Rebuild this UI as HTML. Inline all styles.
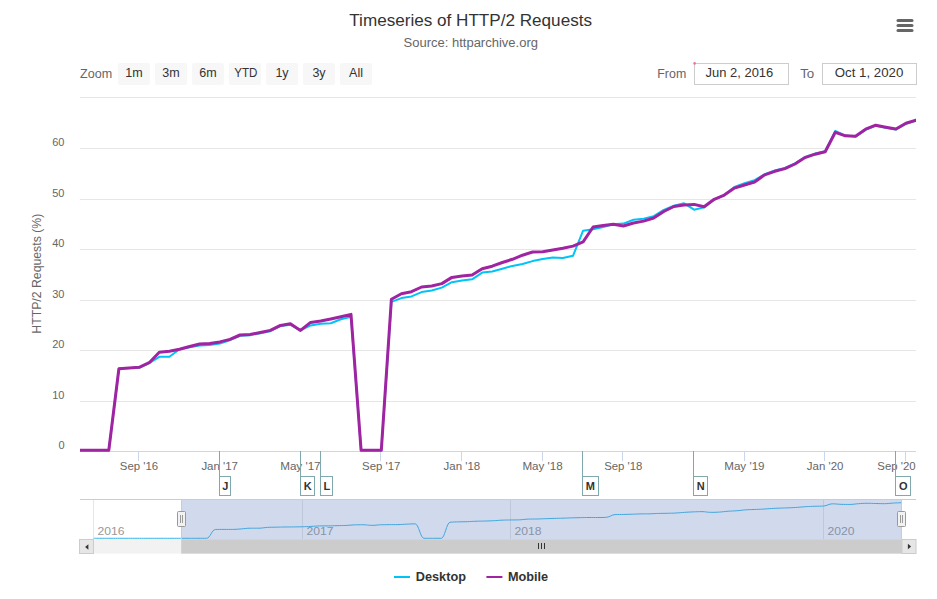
<!DOCTYPE html>
<html><head><meta charset="utf-8"><title>Timeseries of HTTP/2 Requests</title>
<style>
html,body{margin:0;padding:0;background:#ffffff;}
body{width:937px;height:599px;overflow:hidden;font-family:"Liberation Sans", sans-serif;}
svg{display:block;font-family:"Liberation Sans", sans-serif;}
</style></head><body>
<svg width="937" height="599" viewBox="0 0 937 599">
<rect x="0" y="0" width="937" height="599" fill="#ffffff"/>
<text x="349.3" y="25.6" font-size="16" fill="#333333" text-anchor="start" font-weight="normal" textLength="242.7" lengthAdjust="spacingAndGlyphs">Timeseries of HTTP/2 Requests</text>
<text x="403.5" y="46.9" font-size="12" fill="#666666" text-anchor="start" font-weight="normal" textLength="134.5" lengthAdjust="spacingAndGlyphs">Source: httparchive.org</text>
<line x1="898" y1="20.5" x2="912" y2="20.5" stroke="#666666" stroke-width="3" stroke-linecap="round"/>
<line x1="898" y1="25.5" x2="912" y2="25.5" stroke="#666666" stroke-width="3" stroke-linecap="round"/>
<line x1="898" y1="30.5" x2="912" y2="30.5" stroke="#666666" stroke-width="3" stroke-linecap="round"/>
<text x="80.1" y="78.0" font-size="12" fill="#666666" text-anchor="start" font-weight="normal" textLength="32.1" lengthAdjust="spacingAndGlyphs">Zoom</text>
<rect x="118" y="63" width="32" height="22" rx="2" ry="2" fill="#f7f7f7"/>
<text x="134.0" y="77.3" font-size="12.5" fill="#333333" text-anchor="middle" font-weight="normal">1m</text>
<rect x="155" y="63" width="32" height="22" rx="2" ry="2" fill="#f7f7f7"/>
<text x="171.0" y="77.3" font-size="12.5" fill="#333333" text-anchor="middle" font-weight="normal">3m</text>
<rect x="192" y="63" width="32" height="22" rx="2" ry="2" fill="#f7f7f7"/>
<text x="208.0" y="77.3" font-size="12.5" fill="#333333" text-anchor="middle" font-weight="normal">6m</text>
<rect x="229" y="63" width="32" height="22" rx="2" ry="2" fill="#f7f7f7"/>
<text x="245.9" y="77.3" font-size="12.5" fill="#333333" text-anchor="middle" font-weight="normal" textLength="23.2" lengthAdjust="spacingAndGlyphs">YTD</text>
<rect x="266" y="63" width="32" height="22" rx="2" ry="2" fill="#f7f7f7"/>
<text x="282.0" y="77.3" font-size="12.5" fill="#333333" text-anchor="middle" font-weight="normal">1y</text>
<rect x="303" y="63" width="32" height="22" rx="2" ry="2" fill="#f7f7f7"/>
<text x="319.0" y="77.3" font-size="12.5" fill="#333333" text-anchor="middle" font-weight="normal">3y</text>
<rect x="340" y="63" width="32" height="22" rx="2" ry="2" fill="#f7f7f7"/>
<text x="356.0" y="77.3" font-size="12.5" fill="#333333" text-anchor="middle" font-weight="normal">All</text>
<text x="657.3" y="77.5" font-size="12" fill="#666666" text-anchor="start" font-weight="normal" textLength="28.9" lengthAdjust="spacingAndGlyphs">From</text>
<rect x="694.5" y="63.5" width="94" height="21" fill="#ffffff" stroke="#cccccc" stroke-width="1"/>
<circle cx="694.6" cy="63.4" r="1.3" fill="#f06eaa"/>
<text x="705.5" y="77.4" font-size="12.5" fill="#333333" text-anchor="start" font-weight="normal" textLength="67.8" lengthAdjust="spacingAndGlyphs">Jun 2, 2016</text>
<text x="800.2" y="77.5" font-size="12" fill="#666666" text-anchor="start" font-weight="normal" textLength="14.1" lengthAdjust="spacingAndGlyphs">To</text>
<rect x="822.5" y="63.5" width="94" height="21" fill="#ffffff" stroke="#cccccc" stroke-width="1"/>
<text x="834.7" y="77.4" font-size="12.5" fill="#333333" text-anchor="start" font-weight="normal" textLength="68.6" lengthAdjust="spacingAndGlyphs">Oct 1, 2020</text>
<line x1="80" y1="97.5" x2="916" y2="97.5" stroke="#e6e6e6" stroke-width="1"/>
<line x1="80" y1="148.5" x2="916" y2="148.5" stroke="#e6e6e6" stroke-width="1"/>
<text x="64.5" y="146.3" font-size="11" fill="#666666" text-anchor="end" font-weight="normal">60</text>
<line x1="80" y1="199.5" x2="916" y2="199.5" stroke="#e6e6e6" stroke-width="1"/>
<text x="64.5" y="197.3" font-size="11" fill="#666666" text-anchor="end" font-weight="normal">50</text>
<line x1="80" y1="249.5" x2="916" y2="249.5" stroke="#e6e6e6" stroke-width="1"/>
<text x="64.5" y="247.3" font-size="11" fill="#666666" text-anchor="end" font-weight="normal">40</text>
<line x1="80" y1="300.5" x2="916" y2="300.5" stroke="#e6e6e6" stroke-width="1"/>
<text x="64.5" y="298.3" font-size="11" fill="#666666" text-anchor="end" font-weight="normal">30</text>
<line x1="80" y1="350.5" x2="916" y2="350.5" stroke="#e6e6e6" stroke-width="1"/>
<text x="64.5" y="348.3" font-size="11" fill="#666666" text-anchor="end" font-weight="normal">20</text>
<line x1="80" y1="401.5" x2="916" y2="401.5" stroke="#e6e6e6" stroke-width="1"/>
<text x="64.5" y="399.3" font-size="11" fill="#666666" text-anchor="end" font-weight="normal">10</text>
<text x="64.5" y="449.0" font-size="11" fill="#666666" text-anchor="end" font-weight="normal">0</text>
<text x="0" y="0" font-size="12" fill="#666666" text-anchor="middle" transform="translate(40.7,273.7) rotate(-90)" textLength="120" lengthAdjust="spacingAndGlyphs">HTTP/2 Requests (%)</text>
<line x1="138.5" y1="451" x2="138.5" y2="461" stroke="#ccd6eb" stroke-width="1"/>
<text x="139.0" y="470.4" font-size="11" fill="#666666" text-anchor="middle" font-weight="normal" textLength="38.3" lengthAdjust="spacingAndGlyphs">Sep '16</text>
<line x1="219.5" y1="451" x2="219.5" y2="461" stroke="#ccd6eb" stroke-width="1"/>
<text x="219.7" y="470.4" font-size="11" fill="#666666" text-anchor="middle" font-weight="normal" textLength="36.6" lengthAdjust="spacingAndGlyphs">Jan '17</text>
<line x1="300.5" y1="451" x2="300.5" y2="461" stroke="#ccd6eb" stroke-width="1"/>
<text x="300.4" y="470.4" font-size="11" fill="#666666" text-anchor="middle" font-weight="normal" textLength="40.4" lengthAdjust="spacingAndGlyphs">May '17</text>
<line x1="380.5" y1="451" x2="380.5" y2="461" stroke="#ccd6eb" stroke-width="1"/>
<text x="381.2" y="470.4" font-size="11" fill="#666666" text-anchor="middle" font-weight="normal" textLength="38.3" lengthAdjust="spacingAndGlyphs">Sep '17</text>
<line x1="461.5" y1="451" x2="461.5" y2="461" stroke="#ccd6eb" stroke-width="1"/>
<text x="461.9" y="470.4" font-size="11" fill="#666666" text-anchor="middle" font-weight="normal" textLength="36.6" lengthAdjust="spacingAndGlyphs">Jan '18</text>
<line x1="542.5" y1="451" x2="542.5" y2="461" stroke="#ccd6eb" stroke-width="1"/>
<text x="542.6" y="470.4" font-size="11" fill="#666666" text-anchor="middle" font-weight="normal" textLength="40.4" lengthAdjust="spacingAndGlyphs">May '18</text>
<line x1="622.5" y1="451" x2="622.5" y2="461" stroke="#ccd6eb" stroke-width="1"/>
<text x="623.3" y="470.4" font-size="11" fill="#666666" text-anchor="middle" font-weight="normal" textLength="38.3" lengthAdjust="spacingAndGlyphs">Sep '18</text>
<line x1="744.5" y1="451" x2="744.5" y2="461" stroke="#ccd6eb" stroke-width="1"/>
<text x="744.4" y="470.4" font-size="11" fill="#666666" text-anchor="middle" font-weight="normal" textLength="40.4" lengthAdjust="spacingAndGlyphs">May '19</text>
<line x1="824.5" y1="451" x2="824.5" y2="461" stroke="#ccd6eb" stroke-width="1"/>
<text x="825.1" y="470.4" font-size="11" fill="#666666" text-anchor="middle" font-weight="normal" textLength="36.6" lengthAdjust="spacingAndGlyphs">Jan '20</text>
<line x1="905.5" y1="451" x2="905.5" y2="461" stroke="#ccd6eb" stroke-width="1"/>
<text x="896.5" y="470.4" font-size="11" fill="#666666" text-anchor="middle" font-weight="normal" textLength="38.3" lengthAdjust="spacingAndGlyphs">Sep '20</text>
<line x1="80" y1="451.5" x2="916" y2="451.5" stroke="#ccd6eb" stroke-width="1"/>
<clipPath id="pc"><rect x="80" y="90" width="836" height="370"/></clipPath>
<g clip-path="url(#pc)">
<polyline points="68.5,450.3 78.6,450.3 88.6,450.3 98.7,450.3 108.8,450.3 118.9,368.6 129.0,367.9 139.1,367.8 149.2,363.2 159.3,356.8 169.4,356.8 179.5,349.3 189.6,347.2 199.6,345.6 209.7,345.0 219.8,343.5 229.9,340.2 240.0,335.8 250.1,335.2 260.2,333.3 270.3,331.2 280.4,326.1 290.4,324.8 300.5,330.4 310.6,325.4 320.7,323.8 330.8,323.2 340.9,319.3 351.0,316.8 361.1,450.3 371.2,450.3 381.3,450.3 391.4,301.9 401.4,298.1 411.5,296.4 421.6,292.1 431.7,290.5 441.8,287.6 451.9,282.2 462.0,280.6 472.1,279.3 482.2,272.6 492.2,271.5 502.3,268.7 512.4,265.9 522.5,264.0 532.6,261.1 542.7,259.0 552.8,257.6 562.9,257.9 573.0,255.8 583.1,230.7 593.1,229.3 603.2,227.0 613.3,224.3 623.4,223.6 633.5,219.8 643.6,218.7 653.7,216.1 663.8,209.9 673.9,205.7 684.0,203.3 694.1,209.7 704.1,207.4 714.2,199.5 724.3,195.2 734.4,186.9 744.5,183.3 754.6,180.1 764.7,174.3 774.8,170.5 784.9,168.0 795.0,163.4 805.0,157.0 815.1,153.6 825.2,151.3 835.3,130.9 845.4,135.6 855.5,136.6 865.6,129.8 875.7,125.8 885.8,127.8 895.9,129.6 905.9,123.8 916.0,120.6" fill="none" stroke="#00c3f7" stroke-width="2" stroke-linejoin="round" stroke-linecap="round"/>
<polyline points="68.5,450.3 78.6,450.3 88.6,450.3 98.7,450.3 108.8,450.3 118.9,368.8 129.0,367.9 139.1,367.3 149.2,362.7 159.3,352.3 169.4,351.3 179.5,349.3 189.6,346.5 199.6,344.0 209.7,343.5 219.8,341.9 229.9,339.4 240.0,335.0 250.1,334.4 260.2,332.5 270.3,330.4 280.4,325.4 290.4,323.7 300.5,330.4 310.6,322.4 320.7,321.0 330.8,319.0 340.9,316.8 351.0,314.4 361.1,450.3 371.2,450.3 381.3,450.3 391.4,299.2 401.4,293.7 411.5,291.7 421.6,287.0 431.7,286.0 441.8,283.6 451.9,277.4 462.0,276.1 472.1,275.1 482.2,268.7 492.2,266.2 502.3,262.5 512.4,259.3 522.5,255.2 532.6,252.0 542.7,251.8 552.8,250.1 562.9,248.3 573.0,246.1 583.1,241.9 593.1,227.0 603.2,225.4 613.3,224.3 623.4,226.0 633.5,223.0 643.6,221.1 653.7,218.0 663.8,211.5 673.9,206.5 684.0,205.1 694.1,204.4 704.1,206.8 714.2,199.3 724.3,195.1 734.4,188.1 744.5,185.0 754.6,182.0 764.7,174.8 774.8,171.3 784.9,168.6 795.0,164.0 805.0,157.6 815.1,154.2 825.2,151.8 835.3,132.3 845.4,135.8 855.5,136.2 865.6,129.2 875.7,125.2 885.8,127.2 895.9,129.0 905.9,123.2 916.0,120.1" fill="none" stroke="#a024a2" stroke-width="3" stroke-linejoin="round" stroke-linecap="round"/>
</g>
<line x1="219.5" y1="451" x2="219.5" y2="476.5" stroke="#80a9ae" stroke-width="1"/>
<rect x="219.5" y="476.5" width="11.0" height="19" fill="#ffffff" stroke="#80a9ae" stroke-width="1"/>
<text x="225.3" y="490.0" font-size="11" fill="#333333" text-anchor="middle" font-weight="bold">J</text>
<line x1="300.5" y1="451" x2="300.5" y2="476.5" stroke="#80a9ae" stroke-width="1"/>
<rect x="300.5" y="476.5" width="14.0" height="19" fill="#ffffff" stroke="#80a9ae" stroke-width="1"/>
<text x="307.8" y="490.0" font-size="11" fill="#333333" text-anchor="middle" font-weight="bold">K</text>
<line x1="320.5" y1="451" x2="320.5" y2="476.5" stroke="#80a9ae" stroke-width="1"/>
<rect x="320.5" y="476.5" width="12.0" height="19" fill="#ffffff" stroke="#80a9ae" stroke-width="1"/>
<text x="326.8" y="490.0" font-size="11" fill="#333333" text-anchor="middle" font-weight="bold">L</text>
<line x1="582.5" y1="451" x2="582.5" y2="476.5" stroke="#80a9ae" stroke-width="1"/>
<rect x="582.5" y="476.5" width="16.0" height="19" fill="#ffffff" stroke="#80a9ae" stroke-width="1"/>
<text x="590.3" y="490.0" font-size="11" fill="#333333" text-anchor="middle" font-weight="bold">M</text>
<line x1="693.5" y1="451" x2="693.5" y2="476.5" stroke="#80a9ae" stroke-width="1"/>
<rect x="693.5" y="476.5" width="14.0" height="19" fill="#ffffff" stroke="#80a9ae" stroke-width="1"/>
<text x="700.8" y="490.0" font-size="11" fill="#333333" text-anchor="middle" font-weight="bold">N</text>
<line x1="895.5" y1="451" x2="895.5" y2="476.5" stroke="#80a9ae" stroke-width="1"/>
<rect x="895.5" y="476.5" width="15.0" height="19" fill="#ffffff" stroke="#80a9ae" stroke-width="1"/>
<text x="903.3" y="490.0" font-size="11" fill="#333333" text-anchor="middle" font-weight="bold">O</text>
<line x1="93.5" y1="500" x2="93.5" y2="539.5" stroke="#e6e6e6" stroke-width="1"/>
<text x="97.5" y="535.3" font-size="11" fill="#999999" text-anchor="start" font-weight="normal" textLength="27.0" lengthAdjust="spacingAndGlyphs">2016</text>
<line x1="302.5" y1="500" x2="302.5" y2="539.5" stroke="#e6e6e6" stroke-width="1"/>
<text x="306.5" y="535.3" font-size="11" fill="#999999" text-anchor="start" font-weight="normal" textLength="27.0" lengthAdjust="spacingAndGlyphs">2017</text>
<line x1="510.5" y1="500" x2="510.5" y2="539.5" stroke="#e6e6e6" stroke-width="1"/>
<text x="514.5" y="535.3" font-size="11" fill="#999999" text-anchor="start" font-weight="normal" textLength="27.0" lengthAdjust="spacingAndGlyphs">2018</text>
<line x1="823.5" y1="500" x2="823.5" y2="539.5" stroke="#e6e6e6" stroke-width="1"/>
<text x="827.5" y="535.3" font-size="11" fill="#999999" text-anchor="start" font-weight="normal" textLength="27.0" lengthAdjust="spacingAndGlyphs">2020</text>
<path d="M 93.69 538.29 C 93.69 538.29 98.91 538.29 102.38 538.29 C 105.86 538.29 107.60 538.29 111.07 538.29 C 114.55 538.29 116.29 538.29 119.76 538.29 C 123.24 538.29 124.98 538.29 128.45 538.29 C 131.93 538.29 133.67 538.29 137.14 538.29 C 140.62 538.29 142.36 538.29 145.83 538.29 C 149.31 538.29 151.05 538.29 154.52 538.29 C 158.00 538.29 159.74 538.29 163.21 538.29 C 166.69 538.29 168.43 538.29 171.90 538.29 C 175.38 538.29 177.12 538.29 180.59 538.29 C 184.07 538.29 185.81 538.29 189.28 538.29 C 192.76 538.29 194.50 538.29 197.97 538.29 C 201.45 538.29 203.19 538.29 206.66 538.29 C 210.14 538.29 211.88 529.55 215.35 529.47 C 218.83 529.40 220.57 529.41 224.04 529.40 C 227.52 529.39 229.26 529.40 232.73 529.39 C 236.21 529.38 237.95 529.13 241.42 528.89 C 244.90 528.65 246.64 528.20 250.11 528.20 C 253.59 528.20 255.33 528.20 258.80 528.20 C 262.28 528.20 264.02 527.60 267.49 527.39 C 270.97 527.18 272.71 527.25 276.18 527.17 C 279.66 527.09 281.40 527.04 284.87 526.99 C 288.35 526.95 290.09 526.97 293.56 526.93 C 297.04 526.88 298.78 526.87 302.25 526.77 C 305.73 526.66 307.47 526.58 310.94 526.41 C 314.42 526.24 316.16 526.00 319.63 525.94 C 323.11 525.87 324.85 525.92 328.32 525.87 C 331.80 525.82 333.54 525.75 337.01 525.67 C 340.49 525.58 342.23 525.59 345.70 525.44 C 349.18 525.28 350.92 525.03 354.39 524.89 C 357.87 524.75 359.61 524.75 363.08 524.75 C 366.56 524.75 368.30 525.35 371.77 525.35 C 375.25 525.35 376.99 524.96 380.46 524.81 C 383.94 524.67 385.68 524.69 389.15 524.64 C 392.63 524.59 394.37 524.64 397.84 524.58 C 401.32 524.51 403.06 524.29 406.53 524.15 C 410.01 524.02 411.75 523.88 415.22 523.88 C 418.70 523.88 420.44 538.29 423.91 538.29 C 427.39 538.29 429.13 538.29 432.60 538.29 C 436.08 538.29 437.82 538.29 441.29 538.29 C 444.77 538.29 446.51 522.69 449.98 522.28 C 453.46 521.87 455.20 521.99 458.67 521.87 C 462.15 521.75 463.89 521.81 467.36 521.68 C 470.84 521.55 472.58 521.35 476.05 521.22 C 479.53 521.09 481.27 521.14 484.74 521.05 C 488.22 520.95 489.96 520.91 493.43 520.73 C 496.91 520.55 498.65 520.30 502.12 520.15 C 505.60 520.00 507.34 520.04 510.81 519.98 C 514.29 519.92 516.03 519.98 519.50 519.84 C 522.98 519.70 524.72 519.23 528.19 519.11 C 531.67 519.00 533.41 519.08 536.88 519.00 C 540.36 518.91 542.10 518.81 545.57 518.69 C 549.05 518.57 550.79 518.49 554.26 518.39 C 557.74 518.29 559.48 518.29 562.95 518.19 C 566.43 518.08 568.17 517.98 571.64 517.87 C 575.12 517.77 576.86 517.72 580.33 517.65 C 583.81 517.57 585.55 517.50 589.02 517.50 C 592.50 517.50 594.24 517.53 597.71 517.53 C 601.19 517.53 602.93 517.53 606.40 517.30 C 609.88 517.07 611.62 514.74 615.09 514.59 C 618.57 514.44 620.31 514.52 623.78 514.44 C 627.26 514.36 629.00 514.30 632.47 514.19 C 635.95 514.09 637.69 513.98 641.16 513.90 C 644.64 513.83 646.38 513.90 649.85 513.83 C 653.33 513.75 655.07 513.52 658.54 513.42 C 662.02 513.31 663.76 513.38 667.23 513.30 C 670.71 513.22 672.45 513.21 675.92 513.02 C 679.40 512.83 681.14 512.57 684.61 512.35 C 688.09 512.12 689.83 512.04 693.30 511.89 C 696.78 511.75 698.52 511.64 701.99 511.64 C 705.47 511.64 707.21 512.33 710.68 512.33 C 714.16 512.33 715.90 512.30 719.37 512.08 C 722.85 511.86 724.59 511.49 728.06 511.23 C 731.54 510.96 733.28 511.03 736.75 510.76 C 740.23 510.49 741.97 510.12 745.44 509.87 C 748.92 509.61 750.66 509.62 754.13 509.48 C 757.61 509.33 759.35 509.33 762.82 509.13 C 766.30 508.94 768.04 508.71 771.51 508.51 C 774.99 508.30 776.73 508.23 780.20 508.10 C 783.68 507.96 785.42 507.98 788.89 507.83 C 792.37 507.67 794.11 507.57 797.58 507.33 C 801.06 507.09 802.80 506.85 806.27 506.64 C 809.75 506.43 811.49 506.40 814.96 506.27 C 818.44 506.15 820.18 506.27 823.65 506.02 C 827.13 505.78 828.87 503.82 832.34 503.82 C 835.82 503.82 837.56 504.22 841.03 504.33 C 844.51 504.44 846.25 504.44 849.72 504.44 C 853.20 504.44 854.94 503.94 858.41 503.70 C 861.89 503.47 863.63 503.27 867.10 503.27 C 870.58 503.27 872.32 503.41 875.79 503.49 C 879.27 503.57 881.01 503.68 884.48 503.68 C 887.96 503.68 889.70 503.25 893.17 503.06 C 896.65 502.86 901.86 502.71 901.86 502.71" fill="none" stroke="#2fb5ea" stroke-width="1"/>
<rect x="182" y="500" width="719" height="39.5" fill="rgba(102,133,194,0.3)"/>
<line x1="80" y1="499.5" x2="916" y2="499.5" stroke="#cccccc" stroke-width="1"/>
<line x1="181.5" y1="499.5" x2="181.5" y2="539.5" stroke="#cccccc" stroke-width="1"/>
<line x1="901.5" y1="499.5" x2="901.5" y2="539.5" stroke="#cccccc" stroke-width="1"/>
<rect x="177.5" y="511.5" width="8" height="15" rx="1" fill="#f2f2f2" stroke="#999999" stroke-width="1"/>
<line x1="180.5" y1="515" x2="180.5" y2="523" stroke="#999999" stroke-width="1"/>
<line x1="182.5" y1="515" x2="182.5" y2="523" stroke="#999999" stroke-width="1"/>
<rect x="897.5" y="511.5" width="8" height="15" rx="1" fill="#f2f2f2" stroke="#999999" stroke-width="1"/>
<line x1="900.5" y1="515" x2="900.5" y2="523" stroke="#999999" stroke-width="1"/>
<line x1="902.5" y1="515" x2="902.5" y2="523" stroke="#999999" stroke-width="1"/>
<rect x="80" y="539.2" width="836" height="14.4" fill="#f2f2f2"/>
<rect x="181.2" y="539.2" width="720.8" height="14.4" fill="#cccccc"/>
<rect x="79.5" y="539.5" width="14" height="14" fill="#e6e6e6" stroke="#cccccc" stroke-width="1"/>
<rect x="902" y="539.5" width="14" height="14" fill="#e6e6e6" stroke="#cccccc" stroke-width="1"/>
<path d="M 88.4 544.2 L 85.1 547 L 88.4 549.8 Z" fill="#333333"/>
<path d="M 907.9 543.8 L 911.1 546.5 L 907.9 549.2 Z" fill="#333333"/>
<line x1="538.5" y1="543" x2="538.5" y2="549" stroke="#333333" stroke-width="1"/>
<line x1="541.5" y1="543" x2="541.5" y2="549" stroke="#333333" stroke-width="1"/>
<line x1="544.5" y1="543" x2="544.5" y2="549" stroke="#333333" stroke-width="1"/>
<line x1="394" y1="577" x2="410" y2="577" stroke="#00c3f7" stroke-width="2"/>
<text x="415.8" y="580.9" font-size="12" fill="#333333" text-anchor="start" font-weight="bold" textLength="50.1" lengthAdjust="spacingAndGlyphs">Desktop</text>
<line x1="486.4" y1="577" x2="502.4" y2="577" stroke="#a024a2" stroke-width="2"/>
<text x="507.9" y="580.9" font-size="12" fill="#333333" text-anchor="start" font-weight="bold" textLength="40.2" lengthAdjust="spacingAndGlyphs">Mobile</text>
</svg>
</body></html>
